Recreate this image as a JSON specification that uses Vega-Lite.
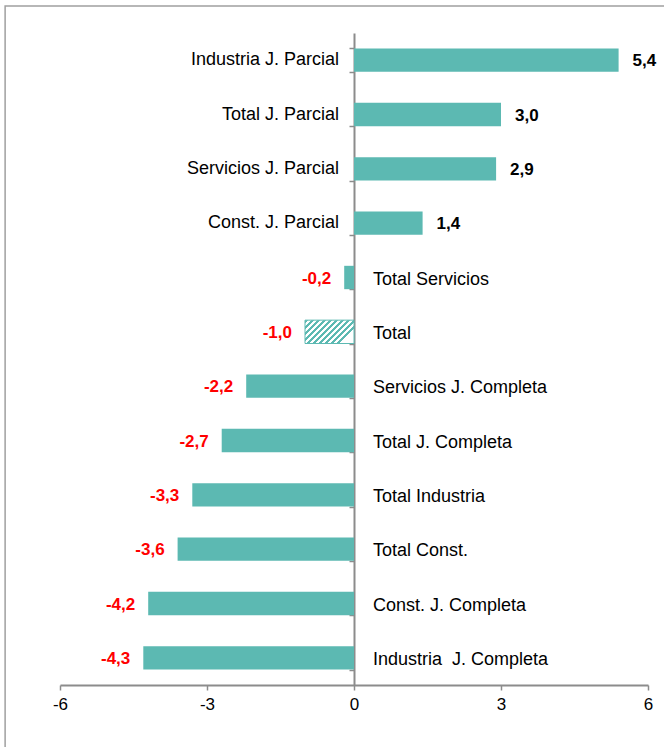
{
  "$schema": "https://vega.github.io/schema/vega-lite/v6.json",
  "width": 588,
  "height": 652,
  "autosize": "none",
  "padding": {"left": 60, "top": 33, "right": 16, "bottom": 62},
  "background": "white",
  "config": {
    "view": {"stroke": null},
    "font": "Liberation Sans",
    "locale": {"number": {"decimal": ",", "thousands": ".", "grouping": [3], "currency": ["", " €"], "minus": "-"}}
  },
  "data": {
    "values": [
      {"cat": "Industria J. Parcial", "v": 5.4, "kind": "solid"},
      {"cat": "Total J. Parcial", "v": 3.0, "kind": "solid"},
      {"cat": "Servicios J. Parcial", "v": 2.9, "kind": "solid"},
      {"cat": "Const. J. Parcial", "v": 1.4, "kind": "solid"},
      {"cat": "Total Servicios", "v": -0.2, "kind": "solid"},
      {"cat": "Total", "v": -1.0, "kind": "hatched"},
      {"cat": "Servicios J. Completa", "v": -2.2, "kind": "solid"},
      {"cat": "Total J. Completa", "v": -2.7, "kind": "solid"},
      {"cat": "Total Industria", "v": -3.3, "kind": "solid"},
      {"cat": "Total Const.", "v": -3.6, "kind": "solid"},
      {"cat": "Const. J. Completa", "v": -4.2, "kind": "solid"},
      {"cat": "Industria\u00a0 J. Completa", "v": -4.3, "kind": "solid"}
    ]
  },
  "resolve": {"scale": {"y": "independent"}, "axis": {"y": "independent"}},
  "layer": [
    {
      "layer": [
        {
          "transform": [{"filter": "datum.kind === 'solid'"}],
          "mark": {"type": "bar", "color": "#5cb9b2", "orient": "horizontal"},
          "encoding": {
            "y": {
              "field": "cat", "type": "nominal", "sort": null,
              "scale": {"domain": ["Industria J. Parcial", "Total J. Parcial", "Servicios J. Parcial", "Const. J. Parcial", "Total Servicios", "Total", "Servicios J. Completa", "Total J. Completa", "Total Industria", "Total Const.", "Const. J. Completa", "Industria\u00a0 J. Completa"], "paddingInner": 0.57, "paddingOuter": 0.285, "round": false},
              "axis": {"labels": false, "title": null, "tickBand": "extent", "offset": -294, "domainColor": "#8c8c8c", "domainWidth": 2, "tickColor": "#8c8c8c", "tickWidth": 1.5, "tickSize": 5}
            },
            "x": {
              "field": "v", "type": "quantitative",
              "scale": {"domain": [-6, 6], "nice": false, "zero": false},
              "axis": {"values": [-6, -3, 0, 3, 6], "format": "d", "title": null, "grid": false, "domainColor": "#8c8c8c", "domainWidth": 2, "tickColor": "#8c8c8c", "tickWidth": 1.5, "tickSize": 5, "labelFontSize": 17, "labelColor": "black", "labelPadding": 6, "labelFlush": false}
            }
          }
        },
        {
          "transform": [{"filter": "datum.kind === 'hatched'"}],
          "mark": {
            "type": "bar", "orient": "horizontal", "stroke": "#5cb9b2", "strokeWidth": 1,
            "fill": {
              "gradient": "linear", "x1": 0, "y1": 0, "x2": 1, "y2": 0.47,
              "stops": [
                {"offset": 0.0, "color": "#5cb9b2"}, {"offset": 0.05, "color": "#5cb9b2"}, {"offset": 0.05, "color": "#ffffff"}, {"offset": 0.1, "color": "#ffffff"},
                {"offset": 0.1, "color": "#5cb9b2"}, {"offset": 0.15, "color": "#5cb9b2"}, {"offset": 0.15, "color": "#ffffff"}, {"offset": 0.2, "color": "#ffffff"},
                {"offset": 0.2, "color": "#5cb9b2"}, {"offset": 0.25, "color": "#5cb9b2"}, {"offset": 0.25, "color": "#ffffff"}, {"offset": 0.3, "color": "#ffffff"},
                {"offset": 0.3, "color": "#5cb9b2"}, {"offset": 0.35, "color": "#5cb9b2"}, {"offset": 0.35, "color": "#ffffff"}, {"offset": 0.4, "color": "#ffffff"},
                {"offset": 0.4, "color": "#5cb9b2"}, {"offset": 0.45, "color": "#5cb9b2"}, {"offset": 0.45, "color": "#ffffff"}, {"offset": 0.5, "color": "#ffffff"},
                {"offset": 0.5, "color": "#5cb9b2"}, {"offset": 0.55, "color": "#5cb9b2"}, {"offset": 0.55, "color": "#ffffff"}, {"offset": 0.6, "color": "#ffffff"},
                {"offset": 0.6, "color": "#5cb9b2"}, {"offset": 0.65, "color": "#5cb9b2"}, {"offset": 0.65, "color": "#ffffff"}, {"offset": 0.7, "color": "#ffffff"},
                {"offset": 0.7, "color": "#5cb9b2"}, {"offset": 0.75, "color": "#5cb9b2"}, {"offset": 0.75, "color": "#ffffff"}, {"offset": 0.8, "color": "#ffffff"},
                {"offset": 0.8, "color": "#5cb9b2"}, {"offset": 0.85, "color": "#5cb9b2"}, {"offset": 0.85, "color": "#ffffff"}, {"offset": 0.9, "color": "#ffffff"},
                {"offset": 0.9, "color": "#5cb9b2"}, {"offset": 0.95, "color": "#5cb9b2"}, {"offset": 0.95, "color": "#ffffff"}, {"offset": 1.0, "color": "#ffffff"}
              ]
            }
          },
          "encoding": {
            "y": {"field": "cat", "type": "nominal", "sort": null},
            "x": {"field": "v", "type": "quantitative"},
            "x2": {"datum": 0}
          }
        },
        {
          "transform": [{"filter": "datum.v >= 0"}],
          "mark": {"type": "text", "align": "right", "baseline": "middle", "dx": -15, "fontSize": 18, "color": "black"},
          "encoding": {
            "y": {"field": "cat", "type": "nominal", "sort": null},
            "x": {"datum": 0},
            "text": {"field": "cat"}
          }
        },
        {
          "transform": [{"filter": "datum.v < 0"}],
          "mark": {"type": "text", "align": "left", "baseline": "middle", "dx": 19, "dy": 2, "fontSize": 18, "color": "black"},
          "encoding": {
            "y": {"field": "cat", "type": "nominal", "sort": null},
            "x": {"datum": 0},
            "text": {"field": "cat"}
          }
        },
        {
          "transform": [{"filter": "datum.v >= 0"}],
          "mark": {"type": "text", "align": "left", "baseline": "middle", "dx": 14, "dy": 1, "fontSize": 17, "fontWeight": "bold", "color": "black"},
          "encoding": {
            "y": {"field": "cat", "type": "nominal", "sort": null},
            "x": {"field": "v", "type": "quantitative"},
            "text": {"field": "v", "type": "quantitative", "format": ".1f"}
          }
        },
        {
          "transform": [{"filter": "datum.v < 0"}],
          "mark": {"type": "text", "align": "right", "baseline": "middle", "dx": -13, "dy": 1, "fontSize": 17, "fontWeight": "bold", "color": "#ff0000"},
          "encoding": {
            "y": {"field": "cat", "type": "nominal", "sort": null},
            "x": {"field": "v", "type": "quantitative"},
            "text": {"field": "v", "type": "quantitative", "format": ".1f"}
          }
        }
      ]
    },
    {
      "data": {"values": [{}]},
      "mark": {"type": "rect", "fill": null, "stroke": "#a0a0a0", "strokeWidth": 1.5},
      "encoding": {
        "x": {"datum": -7.12, "type": "quantitative"},
        "x2": {"datum": 6.6},
        "y": {"datum": 1.0414, "type": "quantitative", "scale": {"domain": [0, 1], "nice": false, "zero": false}, "axis": null},
        "y2": {"datum": -0.2}
      }
    }
  ]
}
